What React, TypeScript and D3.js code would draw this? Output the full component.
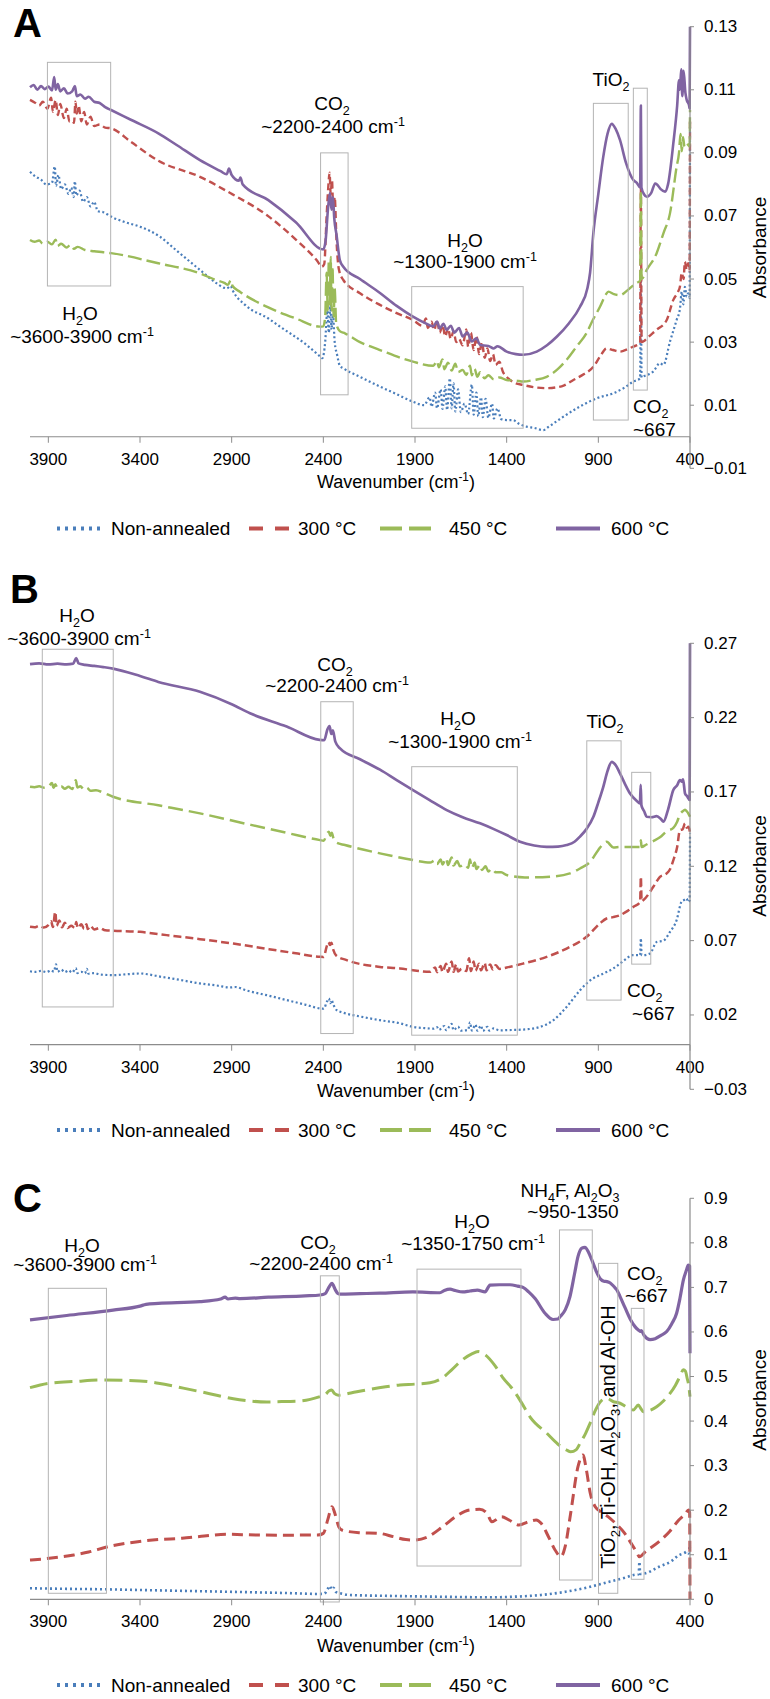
import React from 'react';
import * as d3 from 'd3';

type Pt = [number, number];

// ---------------- DATA ----------------
const SERIES_NAMES = ['Non-annealed', '300 °C', '450 °C', '600 °C'];
const X_TICKS = [3900, 3400, 2900, 2400, 1900, 1400, 900, 400];
const A_Y_TICKS = [-0.01, 0.01, 0.03, 0.05, 0.07, 0.09, 0.11, 0.13];
const B_Y_TICKS = [-0.03, 0.02, 0.07, 0.12, 0.17, 0.22, 0.27];
const C_Y_TICKS = [0, 0.1, 0.2, 0.3, 0.4, 0.5, 0.6, 0.7, 0.8, 0.9];

// Panel A
const A_NON: Pt[] = [[4000,0.0840],[3970,0.0825],[3940,0.0815],[3910,0.0800],[3880,0.0805],[3865,0.0857],[3858,0.0795],[3845,0.0830],[3830,0.0785],[3810,0.0800],[3790,0.0770],[3775,0.0790],[3762,0.0760],[3755,0.0810],[3748,0.0765],[3730,0.0780],[3710,0.0745],[3690,0.0760],[3670,0.0730],[3650,0.0745],[3630,0.0715],[3600,0.0712],[3558,0.0698],[3480,0.0680],[3400,0.0666],[3291,0.0634],[3200,0.0590],[3073,0.0529],[2991,0.0490],[2940,0.0472],[2927,0.0470],[2905,0.0478],[2895,0.0465],[2827,0.0418],[2700,0.0375],[2636,0.0349],[2500,0.0295],[2418,0.0255],[2405,0.0249],[2390,0.0300],[2378,0.0400],[2370,0.0330],[2362,0.0418],[2355,0.0340],[2348,0.0390],[2338,0.0300],[2325,0.0260],[2310,0.0225],[2291,0.0217],[2200,0.0190],[2091,0.0159],[2000,0.0135],[1911,0.0111],[1850,0.0100],[1820,0.0125],[1810,0.0095],[1790,0.0140],[1780,0.0090],[1760,0.0150],[1750,0.0088],[1735,0.0160],[1725,0.0085],[1710,0.0185],[1700,0.0090],[1690,0.0170],[1680,0.0080],[1665,0.0150],[1650,0.0078],[1630,0.0105],[1610,0.0072],[1590,0.0165],[1580,0.0070],[1565,0.0140],[1555,0.0065],[1540,0.0125],[1530,0.0062],[1515,0.0120],[1500,0.0060],[1480,0.0105],[1470,0.0058],[1450,0.0090],[1430,0.0056],[1400,0.0053],[1367,0.0053],[1330,0.0040],[1291,0.0032],[1250,0.0028],[1200,0.0021],[1175,0.0030],[1145,0.0042],[1100,0.0060],[1000,0.0096],[909,0.0122],[818,0.0138],[760,0.0155],[709,0.0175],[672,0.0185],[668,0.0500],[664,0.0188],[655,0.0191],[600,0.0207],[564,0.0233],[545,0.0228],[509,0.0302],[473,0.0370],[455,0.0405],[445,0.0460],[436,0.0420],[428,0.0475],[418,0.0444],[410,0.0455],[402,0.0440],[400,0.1000]];
const A_300: Pt[] = [[4000,0.1068],[3975,0.1060],[3950,0.1050],[3930,0.1062],[3905,0.1040],[3885,0.1075],[3875,0.1030],[3860,0.1068],[3848,0.1020],[3835,0.1055],[3815,0.1010],[3800,0.1040],[3785,0.1000],[3770,0.1002],[3760,0.0995],[3752,0.1062],[3745,0.1025],[3735,0.1050],[3720,0.1000],[3705,0.1030],[3690,0.0990],[3670,0.1015],[3650,0.0985],[3620,0.0990],[3590,0.0980],[3558,0.0978],[3450,0.0935],[3300,0.0875],[3073,0.0824],[2900,0.0770],[2709,0.0703],[2550,0.0625],[2430,0.0555],[2409,0.0539],[2395,0.0548],[2382,0.0700],[2372,0.0800],[2366,0.0837],[2360,0.0770],[2353,0.0815],[2346,0.0720],[2338,0.0760],[2328,0.0620],[2315,0.0530],[2291,0.0497],[2200,0.0455],[2091,0.0418],[2000,0.0392],[1911,0.0370],[1860,0.0352],[1840,0.0375],[1830,0.0345],[1810,0.0365],[1795,0.0338],[1780,0.0370],[1765,0.0330],[1750,0.0355],[1735,0.0318],[1720,0.0345],[1705,0.0310],[1690,0.0335],[1675,0.0300],[1660,0.0310],[1640,0.0290],[1620,0.0340],[1610,0.0285],[1595,0.0330],[1580,0.0275],[1565,0.0320],[1550,0.0262],[1535,0.0300],[1520,0.0250],[1505,0.0280],[1490,0.0240],[1475,0.0262],[1460,0.0228],[1440,0.0238],[1420,0.0205],[1400,0.0190],[1360,0.0172],[1309,0.0164],[1250,0.0157],[1182,0.0154],[1100,0.0160],[1036,0.0180],[980,0.0198],[927,0.0222],[890,0.0255],[855,0.0280],[820,0.0275],[782,0.0270],[740,0.0278],[709,0.0286],[672,0.0296],[668,0.0790],[664,0.0300],[655,0.0302],[620,0.0320],[582,0.0339],[527,0.0370],[491,0.0434],[465,0.0460],[455,0.0476],[445,0.0520],[435,0.0500],[428,0.0555],[418,0.0530],[410,0.0550],[402,0.0525],[400,0.1000]];
const A_450: Pt[] = [[4000,0.0624],[3975,0.0618],[3950,0.0622],[3930,0.0612],[3905,0.0618],[3880,0.0610],[3860,0.0625],[3850,0.0605],[3830,0.0612],[3800,0.0600],[3780,0.0608],[3760,0.0596],[3740,0.0602],[3700,0.0592],[3650,0.0588],[3600,0.0585],[3558,0.0582],[3300,0.0550],[3073,0.0518],[2991,0.0498],[2940,0.0488],[2920,0.0482],[2905,0.0496],[2895,0.0478],[2855,0.0460],[2700,0.0410],[2550,0.0375],[2418,0.0349],[2400,0.0350],[2390,0.0380],[2382,0.0520],[2376,0.0400],[2370,0.0560],[2365,0.0420],[2360,0.0570],[2355,0.0400],[2350,0.0540],[2344,0.0380],[2338,0.0470],[2330,0.0360],[2310,0.0335],[2282,0.0328],[2200,0.0300],[2091,0.0275],[1911,0.0238],[1800,0.0225],[1780,0.0240],[1770,0.0220],[1750,0.0245],[1740,0.0214],[1720,0.0235],[1700,0.0210],[1680,0.0232],[1665,0.0205],[1640,0.0212],[1620,0.0196],[1600,0.0225],[1590,0.0195],[1575,0.0215],[1560,0.0190],[1545,0.0205],[1520,0.0185],[1500,0.0195],[1470,0.0182],[1440,0.0188],[1400,0.0180],[1350,0.0178],[1309,0.0175],[1250,0.0180],[1182,0.0190],[1120,0.0215],[1073,0.0244],[1020,0.0285],[964,0.0329],[930,0.0370],[891,0.0412],[860,0.0450],[845,0.0460],[815,0.0452],[782,0.0449],[740,0.0465],[709,0.0480],[690,0.0488],[672,0.0495],[668,0.0780],[664,0.0500],[636,0.0529],[582,0.0582],[545,0.0645],[509,0.0709],[473,0.0856],[460,0.0900],[452,0.0960],[445,0.0905],[438,0.0950],[430,0.0920],[418,0.0930],[410,0.0925],[402,0.0920],[400,0.1036]];
const A_600: Pt[] = [[4000,0.1108],[3980,0.1115],[3960,0.1100],[3940,0.1112],[3920,0.1102],[3900,0.1110],[3880,0.1098],[3868,0.1140],[3860,0.1100],[3848,0.1118],[3835,0.1095],[3815,0.1105],[3795,0.1088],[3770,0.1095],[3755,0.1112],[3745,0.1080],[3725,0.1085],[3700,0.1072],[3680,0.1078],[3650,0.1062],[3620,0.1058],[3590,0.1045],[3558,0.1036],[3450,0.1005],[3300,0.0962],[3200,0.0925],[3073,0.0877],[2960,0.0842],[2927,0.0832],[2915,0.0850],[2900,0.0830],[2860,0.0812],[2852,0.0822],[2840,0.0800],[2700,0.0750],[2550,0.0680],[2400,0.0594],[2388,0.0620],[2375,0.0720],[2364,0.0773],[2356,0.0720],[2348,0.0760],[2340,0.0690],[2328,0.0640],[2310,0.0560],[2291,0.0539],[2200,0.0500],[2091,0.0456],[2000,0.0415],[1911,0.0381],[1850,0.0362],[1800,0.0350],[1780,0.0365],[1765,0.0343],[1745,0.0358],[1727,0.0339],[1705,0.0352],[1685,0.0330],[1660,0.0345],[1640,0.0318],[1615,0.0330],[1590,0.0302],[1565,0.0312],[1545,0.0291],[1500,0.0288],[1470,0.0280],[1450,0.0287],[1400,0.0270],[1350,0.0262],[1310,0.0260],[1236,0.0270],[1180,0.0290],[1127,0.0317],[1060,0.0360],[1000,0.0412],[960,0.0470],[945,0.0520],[927,0.0646],[900,0.0770],[873,0.0888],[850,0.0960],[827,0.0992],[805,0.0975],[782,0.0941],[750,0.0870],[709,0.0814],[690,0.0805],[672,0.0790],[668,0.1050],[665,0.0790],[650,0.0768],[636,0.0761],[610,0.0775],[590,0.0803],[580,0.0800],[560,0.0785],[536,0.0777],[520,0.0800],[491,0.0930],[470,0.1050],[460,0.1130],[455,0.1100],[448,0.1165],[442,0.1080],[435,0.1160],[425,0.1090],[418,0.1068],[405,0.1050],[402,0.1040],[400,0.1300]];

// Panel B
const B_NON: Pt[] = [[4000,0.0494],[3970,0.0490],[3940,0.0496],[3910,0.0488],[3885,0.0500],[3870,0.0492],[3858,0.0541],[3850,0.0490],[3830,0.0505],[3810,0.0488],[3790,0.0500],[3770,0.0485],[3750,0.0515],[3742,0.0482],[3720,0.0490],[3700,0.0480],[3690,0.0510],[3682,0.0478],[3650,0.0482],[3620,0.0472],[3545,0.0468],[3470,0.0474],[3400,0.0479],[3350,0.0472],[3291,0.0458],[3200,0.0440],[3073,0.0412],[2980,0.0398],[2909,0.0385],[2880,0.0388],[2820,0.0365],[2709,0.0333],[2600,0.0300],[2500,0.0270],[2418,0.0244],[2398,0.0242],[2380,0.0290],[2370,0.0311],[2362,0.0280],[2355,0.0300],[2345,0.0270],[2330,0.0235],[2291,0.0215],[2200,0.0190],[2091,0.0165],[1982,0.0144],[1911,0.0120],[1850,0.0112],[1800,0.0108],[1780,0.0118],[1770,0.0100],[1740,0.0125],[1730,0.0098],[1700,0.0140],[1690,0.0098],[1665,0.0122],[1650,0.0095],[1610,0.0100],[1600,0.0150],[1590,0.0095],[1570,0.0135],[1560,0.0094],[1540,0.0128],[1530,0.0093],[1505,0.0120],[1495,0.0095],[1470,0.0110],[1440,0.0096],[1400,0.0098],[1309,0.0102],[1218,0.0120],[1145,0.0165],[1073,0.0254],[1000,0.0366],[964,0.0412],[930,0.0445],[891,0.0468],[818,0.0513],[745,0.0580],[718,0.0602],[672,0.0602],[668,0.0715],[664,0.0602],[655,0.0602],[618,0.0613],[582,0.0691],[545,0.0700],[509,0.0759],[473,0.0838],[446,0.0962],[430,0.0975],[418,0.0984],[410,0.0960],[402,0.0970],[400,0.1420]];
const B_300: Pt[] = [[4000,0.0793],[3975,0.0790],[3950,0.0800],[3925,0.0788],[3900,0.0805],[3885,0.0830],[3875,0.0792],[3862,0.0894],[3855,0.0800],[3840,0.0835],[3825,0.0790],[3810,0.0820],[3795,0.0785],[3775,0.0800],[3755,0.0785],[3748,0.0826],[3740,0.0785],[3720,0.0810],[3705,0.0780],[3692,0.0810],[3685,0.0778],[3670,0.0800],[3650,0.0775],[3620,0.0785],[3590,0.0770],[3545,0.0767],[3400,0.0759],[3255,0.0737],[3073,0.0710],[2891,0.0680],[2709,0.0645],[2550,0.0615],[2418,0.0591],[2398,0.0590],[2382,0.0660],[2372,0.0690],[2364,0.0670],[2356,0.0685],[2346,0.0640],[2330,0.0600],[2273,0.0569],[2091,0.0523],[1982,0.0513],[1911,0.0501],[1818,0.0490],[1790,0.0520],[1780,0.0488],[1760,0.0530],[1750,0.0488],[1730,0.0545],[1720,0.0490],[1700,0.0560],[1690,0.0490],[1675,0.0540],[1665,0.0492],[1645,0.0510],[1620,0.0495],[1605,0.0582],[1595,0.0495],[1580,0.0560],[1570,0.0498],[1550,0.0545],[1540,0.0500],[1520,0.0550],[1510,0.0500],[1490,0.0540],[1475,0.0505],[1460,0.0535],[1440,0.0510],[1400,0.0519],[1309,0.0546],[1182,0.0591],[1073,0.0647],[964,0.0726],[891,0.0816],[855,0.0849],[820,0.0858],[782,0.0871],[740,0.0900],[709,0.0927],[672,0.0960],[668,0.1129],[664,0.0965],[655,0.0972],[600,0.1062],[564,0.1129],[527,0.1152],[509,0.1180],[491,0.1240],[470,0.1330],[455,0.1443],[440,0.1450],[427,0.1488],[418,0.1460],[409,0.1466],[402,0.1440],[400,0.1420]];
const B_450: Pt[] = [[4000,0.1735],[3975,0.1732],[3950,0.1738],[3920,0.1728],[3900,0.1735],[3880,0.1760],[3872,0.1728],[3862,0.1752],[3850,0.1725],[3830,0.1738],[3810,0.1722],[3790,0.1735],[3770,0.1720],[3750,0.1778],[3742,0.1730],[3725,0.1738],[3705,0.1715],[3690,0.1728],[3670,0.1708],[3640,0.1712],[3600,0.1695],[3547,0.1668],[3300,0.1610],[3073,0.1556],[2800,0.1480],[2600,0.1425],[2418,0.1376],[2398,0.1372],[2380,0.1420],[2370,0.1432],[2362,0.1405],[2354,0.1425],[2345,0.1390],[2330,0.1360],[2282,0.1343],[2091,0.1287],[1911,0.1242],[1818,0.1225],[1790,0.1240],[1780,0.1215],[1760,0.1245],[1750,0.1212],[1730,0.1255],[1720,0.1208],[1700,0.1260],[1690,0.1205],[1670,0.1235],[1655,0.1200],[1630,0.1215],[1610,0.1190],[1600,0.1245],[1590,0.1188],[1575,0.1225],[1565,0.1182],[1545,0.1210],[1535,0.1175],[1515,0.1200],[1500,0.1165],[1480,0.1185],[1460,0.1160],[1430,0.1160],[1400,0.1141],[1300,0.1125],[1164,0.1130],[1055,0.1152],[1000,0.1185],[945,0.1230],[900,0.1310],[870,0.1355],[855,0.1365],[818,0.1327],[782,0.1330],[700,0.1330],[672,0.1330],[668,0.1376],[664,0.1330],[640,0.1345],[600,0.1370],[564,0.1395],[527,0.1436],[491,0.1459],[470,0.1500],[455,0.1550],[440,0.1570],[427,0.1581],[418,0.1570],[409,0.1555],[400,0.1533]];
const B_600: Pt[] = [[4000,0.2560],[3950,0.2565],[3900,0.2558],[3850,0.2563],[3800,0.2558],[3765,0.2563],[3748,0.2600],[3735,0.2565],[3700,0.2555],[3650,0.2548],[3600,0.2540],[3547,0.2530],[3400,0.2480],[3300,0.2440],[3073,0.2374],[2900,0.2290],[2800,0.2229],[2600,0.2140],[2420,0.2050],[2395,0.2048],[2378,0.2120],[2366,0.2143],[2357,0.2090],[2348,0.2115],[2335,0.2040],[2309,0.1993],[2200,0.1920],[2091,0.1850],[2000,0.1780],[1911,0.1713],[1820,0.1645],[1727,0.1578],[1640,0.1530],[1545,0.1489],[1470,0.1450],[1400,0.1410],[1327,0.1365],[1250,0.1340],[1182,0.1331],[1120,0.1333],[1073,0.1343],[1030,0.1365],[1000,0.1400],[965,0.1450],[927,0.1533],[900,0.1630],[873,0.1735],[850,0.1840],[827,0.1903],[805,0.1880],[782,0.1825],[755,0.1755],[727,0.1690],[690,0.1640],[673,0.1623],[669,0.1748],[665,0.1610],[650,0.1570],[636,0.1533],[610,0.1530],[582,0.1537],[560,0.1520],[545,0.1500],[520,0.1580],[491,0.1713],[470,0.1745],[455,0.1780],[446,0.1770],[438,0.1785],[427,0.1690],[415,0.1670],[402,0.1646],[400,0.2700]];

// Panel C
const C_NON: Pt[] = [[4000,0.0247],[3800,0.0235],[3587,0.0224],[3300,0.0200],[2929,0.0170],[2600,0.0140],[2420,0.0120],[2395,0.0125],[2375,0.0240],[2364,0.0300],[2355,0.0220],[2345,0.0260],[2330,0.0160],[2300,0.0127],[2260,0.0097],[2017,0.0075],[1800,0.0060],[1481,0.0045],[1350,0.0060],[1212,0.0097],[1078,0.0170],[944,0.0280],[836,0.0400],[760,0.0480],[702,0.0550],[680,0.0560],[676,0.0840],[672,0.0570],[648,0.0580],[569,0.0730],[500,0.0860],[461,0.0990],[430,0.1040],[418,0.1070],[408,0.1030],[400,0.1200]];
const C_300: Pt[] = [[4000,0.0880],[3895,0.0920],[3761,0.0994],[3680,0.1060],[3587,0.1167],[3500,0.1240],[3412,0.1293],[3300,0.1340],[3171,0.1369],[3050,0.1420],[2929,0.1459],[2768,0.1443],[2600,0.1440],[2430,0.1443],[2400,0.1480],[2375,0.1800],[2353,0.2078],[2335,0.1900],[2315,0.1620],[2299,0.1555],[2205,0.1495],[2097,0.1480],[2017,0.1405],[1950,0.1340],[1910,0.1330],[1829,0.1405],[1749,0.1630],[1680,0.1850],[1602,0.2004],[1548,0.2020],[1507,0.1930],[1481,0.1740],[1427,0.1854],[1387,0.1780],[1333,0.1667],[1280,0.1740],[1239,0.1780],[1212,0.1706],[1172,0.1405],[1135,0.1100],[1105,0.0956],[1080,0.1200],[1051,0.1930],[1011,0.2976],[984,0.3238],[965,0.2900],[944,0.2379],[917,0.2078],[880,0.1950],[836,0.1818],[800,0.1680],[756,0.1480],[720,0.1250],[690,0.1050],[676,0.0956],[640,0.1080],[569,0.1293],[510,0.1530],[461,0.1780],[425,0.1920],[408,0.2004],[402,0.1950],[400,0.0000]];
const C_450: Pt[] = [[4000,0.475],[3891,0.485],[3750,0.489],[3618,0.492],[3400,0.490],[3300,0.485],[3164,0.474],[3060,0.465],[2982,0.458],[2891,0.450],[2800,0.445],[2709,0.443],[2600,0.444],[2527,0.445],[2418,0.455],[2390,0.459],[2368,0.468],[2354,0.470],[2340,0.462],[2318,0.458],[2250,0.463],[2164,0.470],[2060,0.477],[1982,0.481],[1900,0.483],[1818,0.486],[1750,0.497],[1700,0.515],[1640,0.538],[1590,0.551],[1555,0.556],[1515,0.548],[1465,0.525],[1420,0.497],[1364,0.470],[1320,0.442],[1270,0.408],[1182,0.373],[1120,0.348],[1073,0.335],[1051,0.331],[1020,0.336],[1000,0.350],[970,0.372],[945,0.395],[915,0.425],[890,0.443],[855,0.451],[820,0.444],[782,0.440],[740,0.430],[709,0.425],[682,0.436],[668,0.428],[655,0.421],[620,0.424],[582,0.432],[545,0.445],[509,0.462],[480,0.480],[455,0.500],[436,0.515],[425,0.512],[415,0.495],[409,0.485],[400,0.455]];
const C_600: Pt[] = [[4000,0.627],[3800,0.637],[3547,0.649],[3400,0.658],[3367,0.662],[3300,0.664],[3073,0.668],[2960,0.674],[2936,0.678],[2920,0.674],[2880,0.676],[2855,0.675],[2700,0.678],[2500,0.681],[2418,0.683],[2390,0.686],[2370,0.700],[2353,0.709],[2335,0.695],[2320,0.686],[2309,0.685],[2200,0.686],[2091,0.687],[1911,0.690],[1764,0.688],[1740,0.693],[1709,0.696],[1680,0.693],[1640,0.690],[1600,0.692],[1560,0.694],[1518,0.690],[1491,0.705],[1440,0.706],[1382,0.706],[1340,0.703],[1311,0.700],[1280,0.690],[1245,0.675],[1191,0.642],[1147,0.628],[1120,0.629],[1109,0.634],[1080,0.650],[1055,0.679],[1030,0.730],[1011,0.769],[990,0.788],[973,0.790],[955,0.780],[935,0.761],[910,0.735],[891,0.720],[870,0.714],[853,0.713],[835,0.710],[815,0.702],[800,0.695],[782,0.680],[755,0.655],[725,0.628],[700,0.612],[680,0.604],[670,0.601],[665,0.603],[650,0.592],[618,0.583],[590,0.585],[560,0.592],[527,0.601],[500,0.618],[473,0.642],[455,0.675],[436,0.717],[420,0.738],[409,0.750],[402,0.748],[400,0.552]];

// ---------------- STYLE / LAYOUT ----------------
const FONT = '"Liberation Sans", Arial, Helvetica, sans-serif';
const COLORS = ['#4a7ebb', '#c0504d', '#9bbb59', '#8064a2'];
const LEGEND_DASH = ['3,5', '14,12', '22,7', ''];
const LEGEND_X: [number, number, number][] = [[57, 100, 111], [249, 289, 298], [380, 433, 449], [556, 600, 611]];
const BOX_COLOR = '#b4b4b4';
const AXIS_COLOR = '#8c8c8c';

type Label = { s: string; x: number; y: number; anchor?: string };
type Box = [number, number, number, number];

interface Panel {
  letter: string; letterX: number; letterY: number;
  yDomain: [number, number]; yRange: [number, number];
  yTicks: number[]; fmt: (v: number) => string;
  series: Pt[][];
  widths: number[]; dashes: string[];
  boxes: Box[];
  labels: Label[];
  vertical?: { s: string; x: number; y: number };
  titleY: number; legendY: number; absY: number;
}

const f2 = d3.format('.2f');
const f1 = (v: number) => (v === 0 ? '0' : d3.format('.1f')(v));

const PANELS: Panel[] = [
  {
    letter: 'A', letterX: 13, letterY: 37,
    yDomain: [-0.01, 0.13], yRange: [468.3, 26.7], yTicks: A_Y_TICKS, fmt: f2,
    series: [A_NON, A_300, A_450, A_600],
    widths: [2.2, 2.4, 2.4, 2.6], dashes: ['2,2.5', '7,4', '14,5', ''],
    boxes: [[3905, 3560, 0.1187, 0.0478], [2415, 2265, 0.090, 0.0133], [1918, 1310, 0.0476, 0.0027], [927, 737, 0.1057, 0.0053], [709, 633, 0.1105, 0.0148]],
    labels: [
      { s: 'H_{2}O', x: 80, y: 320 }, { s: '~3600-3900 cm^{-1}', x: 82, y: 343 },
      { s: 'CO_{2}', x: 332, y: 110 }, { s: '~2200-2400 cm^{-1}', x: 333, y: 133 },
      { s: 'H_{2}O', x: 465, y: 247 }, { s: '~1300-1900 cm^{-1}', x: 465, y: 268 },
      { s: 'TiO_{2}', x: 611, y: 86 },
      { s: 'CO_{2}', x: 633, y: 413, anchor: 'start' }, { s: '~667', x: 633, y: 436, anchor: 'start' },
    ],
    titleY: 488, legendY: 528.5, absY: 247.5,
  },
  {
    letter: 'B', letterX: 10, letterY: 603,
    yDomain: [-0.03, 0.27], yRange: [1089.3, 643.3], yTicks: B_Y_TICKS, fmt: f2,
    series: [B_NON, B_300, B_450, B_600],
    widths: [2.2, 2.5, 2.5, 2.7], dashes: ['2,2.5', '8,4', '15,6', ''],
    boxes: [[3933, 3546, 0.266, 0.0254], [2414, 2237, 0.2307, 0.0075], [1918, 1342, 0.187, 0.0064], [963, 776, 0.2044, 0.030], [718, 614, 0.1832, 0.0542]],
    labels: [
      { s: 'H_{2}O', x: 77, y: 622 }, { s: '~3600-3900 cm^{-1}', x: 79, y: 645 },
      { s: 'CO_{2}', x: 335, y: 671 }, { s: '~2200-2400 cm^{-1}', x: 337, y: 692 },
      { s: 'H_{2}O', x: 458, y: 725 }, { s: '~1300-1900 cm^{-1}', x: 460, y: 748 },
      { s: 'TiO_{2}', x: 605, y: 728 },
      { s: 'CO_{2}', x: 627, y: 997, anchor: 'start' }, { s: '~667', x: 632, y: 1020, anchor: 'start' },
    ],
    titleY: 1097, legendY: 1130, absY: 866,
  },
  {
    letter: 'C', letterX: 13, letterY: 1212,
    yDomain: [0, 0.9], yRange: [1599.3, 1198.3], yTicks: C_Y_TICKS, fmt: f1,
    series: [C_NON, C_300, C_450, C_600],
    widths: [2.6, 3, 3, 3.2], dashes: ['2,3', '11,6', '18,7', ''],
    boxes: [[3900, 3583, 0.698, 0.0135], [2416, 2313, 0.726, -0.006], [1889, 1322, 0.741, 0.0747], [1112, 933, 0.829, 0.0433], [899, 794, 0.754, 0.0135], [720, 651, 0.653, 0.0449]],
    labels: [
      { s: 'H_{2}O', x: 82, y: 1252 }, { s: '~3600-3900 cm^{-1}', x: 85, y: 1271 },
      { s: 'CO_{2}', x: 318, y: 1249 }, { s: '~2200-2400 cm^{-1}', x: 321, y: 1270 },
      { s: 'H_{2}O', x: 472, y: 1228 }, { s: '~1350-1750 cm^{-1}', x: 473, y: 1250 },
      { s: 'NH_{4}F, Al_{2}O_{3}', x: 570, y: 1197 }, { s: '~950-1350', x: 573, y: 1218 },
      { s: 'CO_{2}', x: 627, y: 1280, anchor: 'start' }, { s: '~667', x: 625, y: 1302, anchor: 'start' },
    ],
    vertical: { s: 'TiO_{2}, Ti-OH, Al_{2}O_{3}, and Al-OH', x: 615, y: 1437 },
    titleY: 1652, legendY: 1685, absY: 1400,
  },
];

const xScale = d3.scaleLinear().domain([4000, 400]).range([30, 690]);

function Rich({ s, x, y, anchor = 'middle', size = 19, transform }: { s: string; x?: number; y?: number; anchor?: string; size?: number; transform?: string }) {
  const parts: { t: string; k: number }[] = [];
  const re = /([_^])\{([^}]*)\}/g;
  let last = 0;
  let m: RegExpExecArray | null;
  while ((m = re.exec(s))) {
    if (m.index > last) parts.push({ t: s.slice(last, m.index), k: 0 });
    parts.push({ t: m[2], k: m[1] === '_' ? 1 : -1 });
    last = re.lastIndex;
  }
  if (last < s.length) parts.push({ t: s.slice(last), k: 0 });
  let cur = 0;
  return (
    <text x={x} y={y} transform={transform} textAnchor={anchor as any} fontSize={size} fill="#000" style={{ whiteSpace: 'pre' }}>
      {parts.map((p, i) => {
        const target = p.k === 1 ? size * 0.24 : p.k === -1 ? -size * 0.38 : 0;
        const dy = target - cur;
        cur = target;
        return (
          <tspan key={i} dy={dy} fontSize={p.k ? size * 0.66 : size}>{p.t}</tspan>
        );
      })}
    </text>
  );
}

function PanelView({ p }: { p: Panel }) {
  const y = d3.scaleLinear().domain(p.yDomain).range(p.yRange);
  const y0 = y(0);
  const line = d3.line<Pt>().x(d => xScale(d[0])).y(d => y(d[1])).curve(d3.curveMonotoneX);
  const axisX = xScale(400);
  return (
    <g>
      <text x={p.letterX} y={p.letterY} fontSize={40} fontWeight="bold" fill="#000">{p.letter}</text>
      {p.series.map((s, i) => (
        <path key={i} d={line(s) || ''} fill="none" stroke={COLORS[i]} strokeWidth={p.widths[i]}
          strokeDasharray={p.dashes[i] || undefined} strokeLinejoin="round" />
      ))}
      {p.boxes.map((b, i) => {
        const x1 = xScale(b[0]), x2 = xScale(b[1]), yt = y(b[2]), yb = y(b[3]);
        return <rect key={i} x={x1} y={yt} width={x2 - x1} height={yb - yt} fill="none" stroke={BOX_COLOR} strokeWidth={1} />;
      })}
      <line x1={xScale(4000)} x2={axisX} y1={y0} y2={y0} stroke={AXIS_COLOR} strokeWidth={1.2} />
      {X_TICKS.map(t => (
        <g key={t}>
          <line x1={xScale(t)} x2={xScale(t)} y1={y0} y2={y0 + 6} stroke={AXIS_COLOR} strokeWidth={1} />
          <text x={xScale(t)} y={y0 + 28} textAnchor="middle" fontSize={17} fill="#000">{t}</text>
        </g>
      ))}
      <Rich s="Wavenumber (cm^{-1})" x={396} y={p.titleY} size={18} />
      <line x1={axisX} x2={axisX} y1={y(p.yDomain[1])} y2={y(p.yDomain[0])} stroke={AXIS_COLOR} strokeWidth={1.2} />
      {p.yTicks.map(t => (
        <g key={t}>
          <line x1={axisX} x2={axisX + 4} y1={y(t)} y2={y(t)} stroke={AXIS_COLOR} strokeWidth={1} />
          <text x={704} y={y(t)} dominantBaseline="central" fontSize={17} fill="#000">{p.fmt(t)}</text>
        </g>
      ))}
      <text transform={`translate(759,${p.absY}) rotate(-90)`} textAnchor="middle" dominantBaseline="central" fontSize={19} fill="#000">Absorbance</text>
      {p.labels.map((l, i) => <Rich key={i} s={l.s} x={l.x} y={l.y} anchor={l.anchor || 'middle'} size={19} />)}
      {p.vertical && (
        <Rich s={p.vertical.s} transform={`translate(${p.vertical.x},${p.vertical.y}) rotate(-90)`} anchor="middle" size={20} />
      )}
      {SERIES_NAMES.map((n, i) => (
        <g key={n}>
          <line x1={LEGEND_X[i][0]} x2={LEGEND_X[i][1]} y1={p.legendY} y2={p.legendY} stroke={COLORS[i]} strokeWidth={4}
            strokeDasharray={LEGEND_DASH[i] || undefined} />
          <text x={LEGEND_X[i][2]} y={p.legendY} dominantBaseline="central" fontSize={19} fill="#000">{n}</text>
        </g>
      ))}
    </g>
  );
}

export default function App() {
  return (
    <svg width={770} height={1699} viewBox="0 0 770 1699" fontFamily={FONT}
      style={{ position: 'absolute', left: 0, top: 0, display: 'block', background: '#fff' }}>
      <rect x={0} y={0} width={770} height={1699} fill="#fff" />
      {PANELS.map(p => <PanelView key={p.letter} p={p} />)}
    </svg>
  );
}
